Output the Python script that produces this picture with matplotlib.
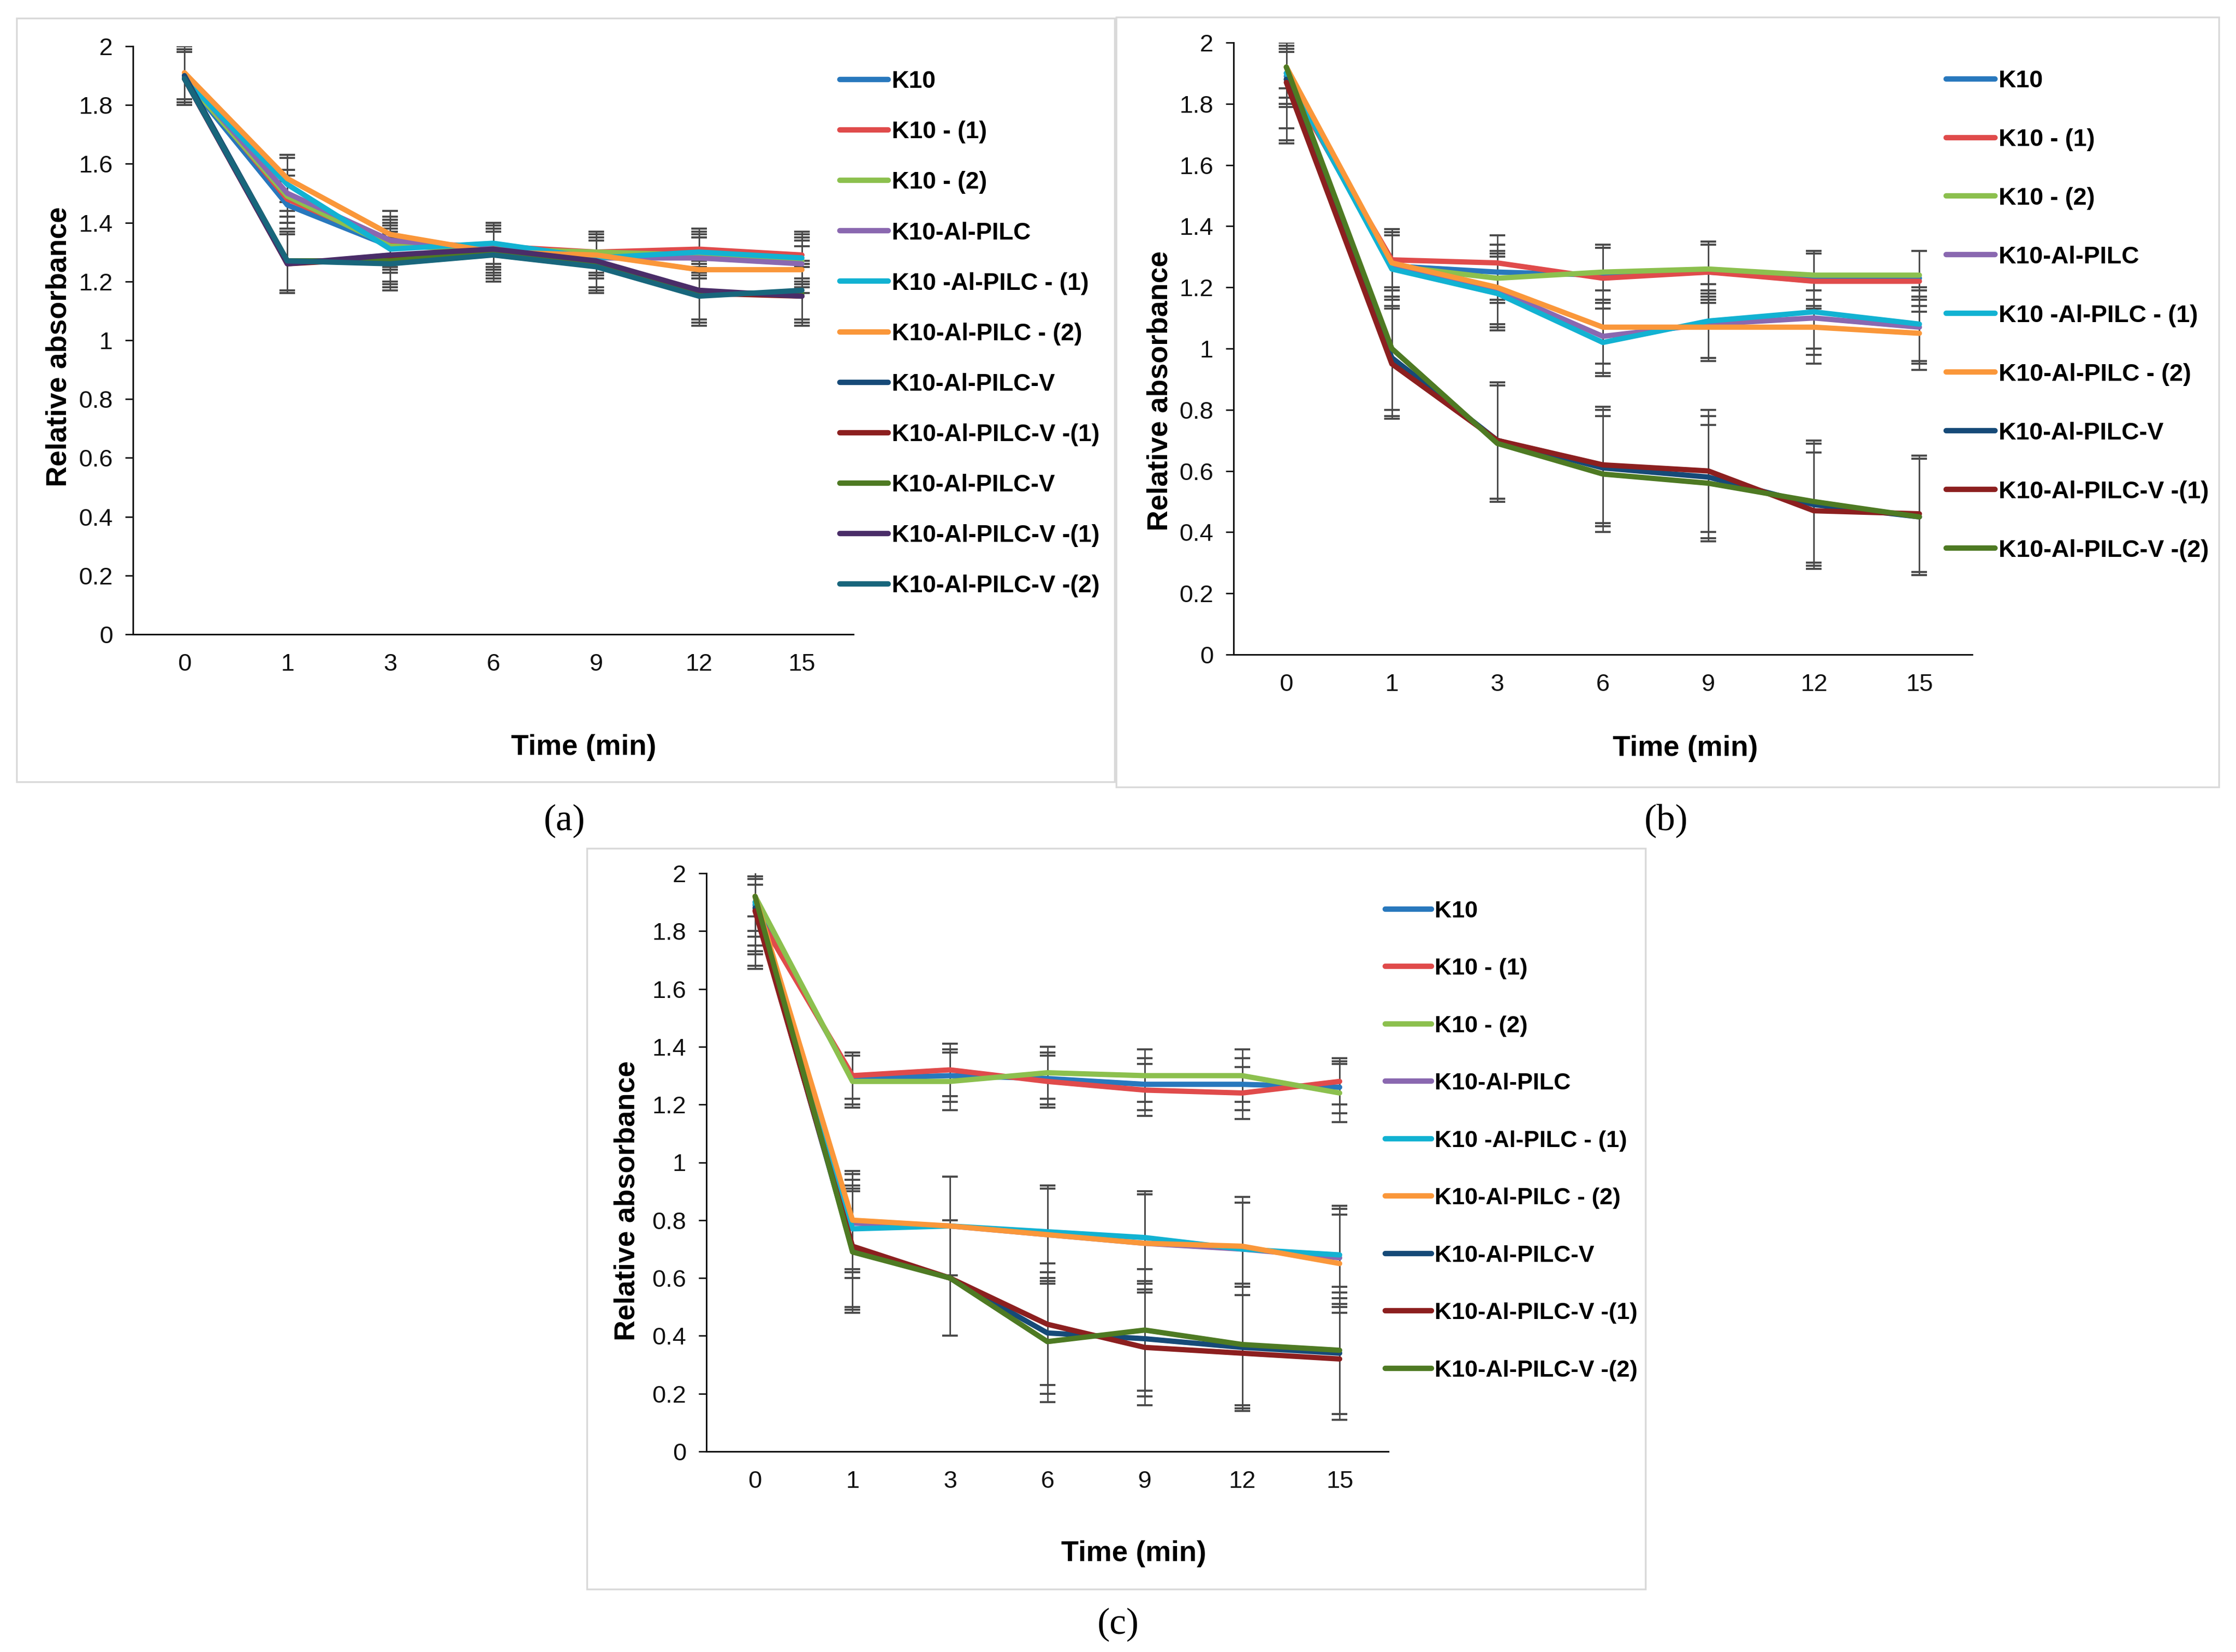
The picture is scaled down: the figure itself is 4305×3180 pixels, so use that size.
import matplotlib
matplotlib.use("Agg")
import matplotlib.pyplot as plt
from matplotlib.patches import Rectangle

plt.rcParams['font.family'] = ['Liberation Sans', 'DejaVu Sans']

W, H = 4305, 3180
DPI = 100

# ---------------- data ----------------
time_labels = ['0', '1', '3', '6', '9', '12', '15']

labels_a = ['K10', 'K10 - (1)', 'K10 - (2)', 'K10-Al-PILC', 'K10 -Al-PILC - (1)',
            'K10-Al-PILC - (2)', 'K10-Al-PILC-V', 'K10-Al-PILC-V -(1)', 'K10-Al-PILC-V',
            'K10-Al-PILC-V -(1)', 'K10-Al-PILC-V -(2)']
labels_bc = ['K10', 'K10 - (1)', 'K10 - (2)', 'K10-Al-PILC', 'K10 -Al-PILC - (1)',
             'K10-Al-PILC - (2)', 'K10-Al-PILC-V', 'K10-Al-PILC-V -(1)', 'K10-Al-PILC-V -(2)']

colors_a = ['#2878bd', '#e04b4b', '#8cc04e', '#8a68b0', '#12b2d2', '#fa973a',
            '#164a78', '#8c1f1f', '#4e7a23', '#4a2d68', '#18667c']
colors_bc = ['#2878bd', '#e04b4b', '#8cc04e', '#8a68b0', '#12b2d2', '#fa973a',
             '#164a78', '#8c1f1f', '#4e7a23']

# panel (a)
a_vals = [
    [1.89, 1.46, 1.32, 1.32, 1.29, 1.28, 1.27],
    [1.90, 1.48, 1.33, 1.32, 1.30, 1.31, 1.29],
    [1.89, 1.49, 1.32, 1.31, 1.30, 1.29, 1.27],
    [1.90, 1.50, 1.34, 1.31, 1.28, 1.28, 1.26],
    [1.89, 1.53, 1.31, 1.33, 1.28, 1.30, 1.28],
    [1.91, 1.55, 1.36, 1.30, 1.29, 1.24, 1.24],
    [1.90, 1.27, 1.27, 1.30, 1.26, 1.16, 1.16],
    [1.89, 1.26, 1.28, 1.30, 1.26, 1.16, 1.15],
    [1.89, 1.27, 1.27, 1.30, 1.26, 1.16, 1.16],
    [1.89, 1.26, 1.29, 1.31, 1.27, 1.17, 1.15],
    [1.89, 1.27, 1.26, 1.29, 1.25, 1.15, 1.17],
]
a_err = [
    [0.09, 0.08, 0.08, 0.07, 0.07, 0.07, 0.08],
    [0.09, 0.08, 0.08, 0.07, 0.07, 0.07, 0.08],
    [0.09, 0.09, 0.08, 0.07, 0.07, 0.07, 0.08],
    [0.09, 0.08, 0.08, 0.07, 0.07, 0.07, 0.08],
    [0.09, 0.09, 0.08, 0.07, 0.07, 0.07, 0.08],
    [0.09, 0.08, 0.08, 0.07, 0.07, 0.07, 0.08],
    [0.09, 0.10, 0.09, 0.09, 0.09, 0.10, 0.10],
    [0.09, 0.10, 0.09, 0.09, 0.09, 0.10, 0.10],
    [0.09, 0.10, 0.09, 0.09, 0.09, 0.10, 0.10],
    [0.09, 0.10, 0.09, 0.09, 0.09, 0.10, 0.10],
    [0.09, 0.10, 0.09, 0.09, 0.09, 0.10, 0.10],
]

# panel (b)
b_vals = [
    [1.89, 1.27, 1.25, 1.24, 1.25, 1.23, 1.23],
    [1.88, 1.29, 1.28, 1.23, 1.25, 1.22, 1.22],
    [1.92, 1.27, 1.23, 1.25, 1.26, 1.24, 1.24],
    [1.90, 1.27, 1.19, 1.04, 1.08, 1.10, 1.07],
    [1.90, 1.26, 1.18, 1.02, 1.09, 1.12, 1.08],
    [1.92, 1.28, 1.20, 1.07, 1.07, 1.07, 1.05],
    [1.88, 0.97, 0.70, 0.61, 0.58, 0.49, 0.45],
    [1.87, 0.95, 0.70, 0.62, 0.60, 0.47, 0.46],
    [1.92, 1.00, 0.69, 0.59, 0.56, 0.50, 0.45],
]
b_err = [
    [0.09, 0.10, 0.09, 0.09, 0.09, 0.09, 0.09],
    [0.09, 0.10, 0.09, 0.10, 0.10, 0.09, 0.10],
    [0.07, 0.11, 0.08, 0.09, 0.09, 0.08, 0.08],
    [0.10, 0.11, 0.12, 0.12, 0.11, 0.12, 0.12],
    [0.10, 0.12, 0.12, 0.11, 0.12, 0.12, 0.12],
    [0.10, 0.11, 0.12, 0.12, 0.11, 0.12, 0.12],
    [0.20, 0.19, 0.19, 0.19, 0.20, 0.20, 0.19],
    [0.20, 0.18, 0.19, 0.19, 0.20, 0.19, 0.19],
    [0.20, 0.20, 0.19, 0.19, 0.19, 0.20, 0.19],
]

# panel (c)
c_vals = [
    [1.89, 1.29, 1.30, 1.29, 1.27, 1.27, 1.26],
    [1.87, 1.30, 1.32, 1.28, 1.25, 1.24, 1.28],
    [1.92, 1.28, 1.28, 1.31, 1.30, 1.30, 1.24],
    [1.90, 0.79, 0.78, 0.75, 0.72, 0.70, 0.67],
    [1.90, 0.77, 0.78, 0.76, 0.74, 0.70, 0.68],
    [1.92, 0.80, 0.78, 0.75, 0.72, 0.71, 0.65],
    [1.88, 0.70, 0.60, 0.41, 0.39, 0.36, 0.34],
    [1.87, 0.71, 0.60, 0.44, 0.36, 0.34, 0.32],
    [1.92, 0.69, 0.60, 0.38, 0.42, 0.37, 0.35],
]
c_err = [
    [0.09, 0.09, 0.09, 0.09, 0.09, 0.09, 0.09],
    [0.09, 0.08, 0.09, 0.09, 0.09, 0.09, 0.08],
    [0.07, 0.09, 0.10, 0.09, 0.09, 0.09, 0.10],
    [0.17, 0.17, 0.17, 0.16, 0.17, 0.16, 0.17],
    [0.17, 0.17, 0.17, 0.16, 0.16, 0.16, 0.17],
    [0.17, 0.17, 0.17, 0.17, 0.17, 0.17, 0.17],
    [0.20, 0.21, 0.20, 0.21, 0.20, 0.21, 0.21],
    [0.20, 0.21, 0.20, 0.21, 0.20, 0.20, 0.21],
    [0.20, 0.21, 0.20, 0.21, 0.21, 0.21, 0.22],
]

y_ticks = [0, 0.2, 0.4, 0.6, 0.8, 1.0, 1.2, 1.4, 1.6, 1.8, 2.0]

# ---------------- layout (pixels) ----------------
panels = [
    dict(name='(a)', vals=a_vals, err=a_err, labels=labels_a, colors=colors_a,
         ax=(256, 89, 1643, 1221), frame=(32, 35, 2146, 1505),
         leg_x=1617, leg_y0=151, leg_dy=96.4, leg_fs=33.5, leg_hl=2.0,
         ylab=(114, 667), xlab=(1124, 1439), plab=(1087, 1580)),
    dict(name='(b)', vals=b_vals, err=b_err, labels=labels_bc, colors=colors_bc,
         ax=(2375, 82, 3797, 1260), frame=(2149, 33, 4272, 1515),
         leg_x=3747, leg_y0=150, leg_dy=112.6, leg_fs=33.8, leg_hl=2.0,
         ylab=(2234, 752), xlab=(3245, 1441), plab=(3208, 1580)),
    dict(name='(c)', vals=c_vals, err=c_err, labels=labels_bc, colors=colors_bc,
         ax=(1360, 1681, 2673, 2794), frame=(1130, 1633, 3168, 3059),
         leg_x=2667, leg_y0=1749, leg_dy=111.75, leg_fs=32.7, leg_hl=1.95,
         ylab=(1207, 2311), xlab=(2183, 2991), plab=(2153, 3127)),
]

fig = plt.figure(figsize=(W / DPI, H / DPI), dpi=DPI)
fig.patch.set_facecolor('white')

LW = 7.3
for p in panels:
    x0, y0, x1, y1 = p['ax']
    ax = fig.add_axes([x0 / W, 1 - y1 / H, (x1 - x0) / W, (y1 - y0) / H])
    xs = list(range(len(time_labels)))
    handles = []
    for vals, err, lab, col in zip(p['vals'], p['err'], p['labels'], p['colors']):
        ax.errorbar(xs, vals, yerr=err, fmt='none', ecolor='#4a4a4a',
                    elinewidth=2.0, capsize=11, capthick=2.8, zorder=2)
    for vals, lab, col in zip(p['vals'], p['labels'], p['colors']):
        ln, = ax.plot(xs, vals, color=col, lw=LW, label=lab,
                      solid_capstyle='round', solid_joinstyle='round', zorder=3)
        handles.append(ln)
    ax.set_xlim(-0.5, len(time_labels) - 0.5)
    ax.set_ylim(0, 2)
    ax.set_xticks(xs)
    ax.set_xticklabels(time_labels)
    ax.set_yticks(y_ticks)
    ax.set_yticklabels(['{:g}'.format(v) for v in y_ticks])
    for s in ['top', 'right']:
        ax.spines[s].set_visible(False)
    for s in ['left', 'bottom']:
        ax.spines[s].set_linewidth(2.2)
        ax.spines[s].set_color('#111111')
    ax.tick_params(axis='y', direction='out', length=11, width=2.0, pad=17,
                   labelsize=34, colors='#111111')
    ax.tick_params(axis='x', length=0, pad=26, labelsize=34, colors='#111111')

    ax.set_ylabel('Relative absorbance', fontsize=40, fontweight='bold')
    ax.set_xlabel('Time (min)', fontsize=40, fontweight='bold')
    ax.yaxis.label.set_va('center')
    ax.xaxis.label.set_va('center')
    ax.yaxis.set_label_coords(p['ylab'][0] / W, 1 - p['ylab'][1] / H, transform=fig.transFigure)
    ax.xaxis.set_label_coords(p['xlab'][0] / W, 1 - p['xlab'][1] / H, transform=fig.transFigure)

    fs = p['leg_fs']
    fs_px = fs * DPI / 72.0
    row_h = 0.93 * fs_px
    lspace = (p['leg_dy'] - row_h) / fs_px
    top = p['leg_y0'] - 0.34 * fs_px
    leg = ax.legend(handles=handles, loc='upper left',
                    bbox_to_anchor=(p['leg_x'] / W, 1 - top / H),
                    bbox_transform=fig.transFigure, frameon=False,
                    prop={'family': ['Liberation Sans', 'DejaVu Sans'], 'weight': 'bold', 'size': fs},
                    handlelength=p['leg_hl'], handletextpad=0.15, labelspacing=lspace,
                    borderpad=0, borderaxespad=0)
    for lh in leg.get_lines():
        lh.set_linewidth(7.5)

    fx0, fy0, fx1, fy1 = p['frame']
    fig.add_artist(Rectangle((fx0 / W, 1 - fy1 / H), (fx1 - fx0) / W, (fy1 - fy0) / H,
                             transform=fig.transFigure, fill=False,
                             edgecolor='#d9d9d9', lw=2.5, zorder=0))
    fig.text(p['plab'][0] / W, 1 - p['plab'][1] / H, p['name'],
             family=['Liberation Serif', 'DejaVu Serif'], fontsize=52,
             ha='center', va='center')

fig.savefig('out.png', dpi=DPI, facecolor='white')
